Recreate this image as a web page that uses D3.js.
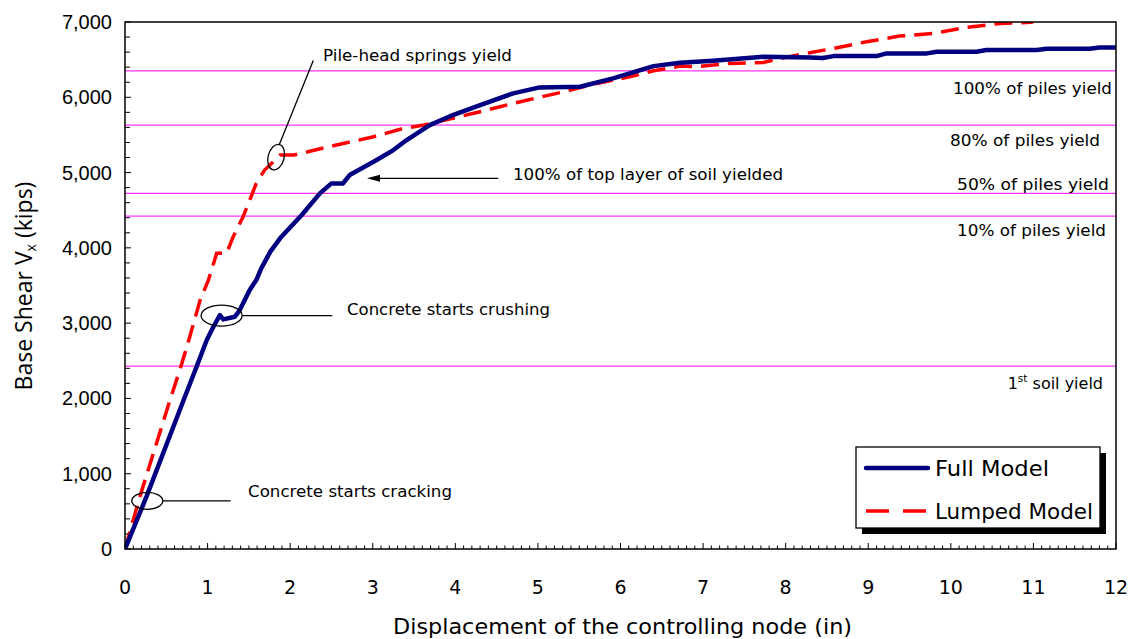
<!DOCTYPE html>
<html>
<head>
<meta charset="utf-8">
<script src="https://cdn.jsdelivr.net/npm/d3@7"></script>
<style>
  html, body { margin: 0; padding: 0; background: #fff; }
  svg { display: block; }
</style>
</head>
<body>
<div id="chart"></div>
<script>
// ---------------- DATA ----------------
const xTickValues = [0,1,2,3,4,5,6,7,8,9,10,11,12];
const yTickValues = [0,1000,2000,3000,4000,5000,6000,7000];

const seriesNames = ["Full Model", "Lumped Model"];

const fullDisp  = [0, 0.26, 0.71, 0.87, 0.99, 1.07, 1.15, 1.19, 1.33, 1.39, 1.51, 1.59, 1.65, 1.76, 1.88, 2.14, 2.36, 2.50, 2.64, 2.72, 3.01, 3.25, 3.41, 3.69, 3.97, 4.30, 4.70, 5.02, 5.51, 5.91, 6.40, 6.72, 7.12, 7.73, 8.29, 8.45, 8.58, 9.10, 9.22, 9.71, 9.83, 10.31, 10.43, 11.04, 11.16, 11.68, 11.80, 12.0];
const fullShear = [0, 695, 1979, 2430, 2776, 2952, 3107, 3050, 3085, 3174, 3440, 3572, 3728, 3950, 4130, 4436, 4724, 4856, 4856, 4967, 5143, 5299, 5432, 5631, 5764, 5896, 6052, 6131, 6140, 6251, 6414, 6458, 6485, 6538, 6530, 6522, 6547, 6547, 6583, 6583, 6605, 6605, 6627, 6627, 6645, 6645, 6662, 6662];

const lumpDisp  = [0, 0.18, 0.545, 0.67, 0.75, 0.91, 1.01, 1.11, 1.23, 1.31, 1.43, 1.59, 1.69, 1.88, 2.04, 2.30, 2.52, 3.01, 3.37, 3.62, 4.30, 4.70, 5.31, 5.71, 6.11, 6.40, 6.72, 6.92, 7.32, 7.73, 7.93, 8.29, 8.58, 8.98, 9.38, 9.79, 10.19, 10.60, 10.92, 11.0];
const lumpShear = [0, 695, 1979, 2400, 2687, 3307, 3572, 3927, 3927, 4148, 4413, 4856, 5033, 5232, 5232, 5299, 5356, 5476, 5587, 5631, 5808, 5919, 6073, 6184, 6272, 6352, 6414, 6405, 6450, 6463, 6516, 6591, 6649, 6738, 6813, 6848, 6928, 6981, 6994, 7000];

const limitValues = [6350, 5630, 4724, 4422, 2430];
const limitLabels = ["100% of piles yield", "80% of piles yield", "50% of piles yield", "10% of piles yield", "1st soil yield"];

const annotationTexts = ["Pile-head springs yield", "100% of top layer of soil yielded", "Concrete starts crushing", "Concrete starts cracking"];

const xTitle = "Displacement of the controlling node (in)";

// ---------------- LAYOUT ----------------
const W = 1128, H = 639;
const plot = { left: 125, right: 1116, top: 22, bottom: 549 };
const comic = "'Comic Sans MS', 'DejaVu Sans', sans-serif";

const svg = d3.select("#chart").append("svg").attr("width", W).attr("height", H);

const x = d3.scaleLinear().domain([0, 12]).range([plot.left, plot.right]);
const y = d3.scaleLinear().domain([0, 7000]).range([plot.bottom, plot.top]);

svg.append("defs").append("clipPath").attr("id", "clip")
  .append("rect").attr("x", plot.left).attr("y", plot.top)
  .attr("width", plot.right - plot.left).attr("height", plot.bottom - plot.top);

// limit lines
svg.append("g").selectAll("line").data(limitValues).join("line")
  .attr("x1", plot.left).attr("x2", plot.right)
  .attr("y1", d => y(d)).attr("y2", d => y(d))
  .attr("stroke", "#ff33ff").attr("stroke-width", 1.2);

// limit labels (right aligned, offset from their line)
const limitLabelRight = [1112, 1100, 1109, 1106, 1103];
const limitLabelWidth = [159, 150, 152, 149, 99];
const limitLabelDy = [23, 21, -3, 20, 23];
const limG = svg.append("g").attr("font-family", comic).attr("font-size", 15).attr("fill", "#000");
limitLabels.forEach((t, i) => {
  if (t.startsWith("1st")) {
    const tx = limG.append("text").attr("x", limitLabelRight[i]).attr("y", y(limitValues[i]) + limitLabelDy[i])
      .attr("text-anchor", "end").attr("font-size", 16);
    tx.append("tspan").text("1");
    tx.append("tspan").attr("font-size", 10.5).attr("dy", -7).text("st");
    tx.append("tspan").attr("dy", 7).text(" soil yield");
  } else {
    limG.append("text").attr("x", limitLabelRight[i] - limitLabelWidth[i]).attr("y", y(limitValues[i]) + limitLabelDy[i])
      .attr("textLength", limitLabelWidth[i]).attr("lengthAdjust", "spacingAndGlyphs").text(t);
  }
});

// axes (ticks inside)
const xMinor = d3.range(0, 12.0001, 0.1);
const yMinor = d3.range(0, 7000.1, 200);
const axG = svg.append("g").attr("stroke", "#000").attr("stroke-width", 1);
axG.selectAll(".xm").data(xMinor).join("line")
  .attr("x1", d => x(d)).attr("x2", d => x(d))
  .attr("y1", plot.bottom).attr("y2", (d, i) => plot.bottom - (i % 10 === 0 ? 6 : 3.5));
axG.selectAll(".ym").data(yMinor).join("line")
  .attr("y1", d => y(d)).attr("y2", d => y(d))
  .attr("x1", plot.left).attr("x2", (d, i) => plot.left + (i % 5 === 0 ? 6 : 5));

// tick labels
svg.append("g").selectAll("text").data(yTickValues).join("text")
  .attr("x", 112).attr("y", d => y(d) + 7)
  .attr("text-anchor", "end")
  .attr("font-family", "'Liberation Sans', Arial, sans-serif")
  .attr("font-size", 20)
  .text(d => d3.format(",")(d));

svg.append("g").selectAll("text").data(xTickValues).join("text")
  .attr("x", d => x(d)).attr("y", 594)
  .attr("text-anchor", "middle")
  .attr("font-family", comic)
  .attr("font-size", 19)
  .text(d => d);

// axis titles
svg.append("text").attr("x", 393).attr("y", 634)
  .attr("font-family", comic).attr("font-size", 21)
  .attr("textLength", 459).attr("lengthAdjust", "spacingAndGlyphs")
  .text(xTitle);

const yt = svg.append("text").attr("transform", "translate(32,286) rotate(-90)")
  .attr("text-anchor", "middle").attr("font-family", "'Open Sans', 'DejaVu Sans', sans-serif").attr("font-size", 23);
yt.append("tspan").text("Base Shear V");
yt.append("tspan").attr("font-size", 14).attr("dy", 4).text("x");
yt.append("tspan").attr("dy", -4).text(" (kips)");

// curves
const line = d3.line().x(d => x(d[0])).y(d => y(d[1]));
const fullData = fullDisp.map((d, i) => [d, fullShear[i]]);
const lumpData = lumpDisp.map((d, i) => [d, lumpShear[i]]);

const curves = svg.append("g").attr("clip-path", "url(#clip)");
curves.append("path").datum(lumpData).attr("d", line)
  .attr("fill", "none").attr("stroke", "#ff0000").attr("stroke-width", 3.5)
  .attr("stroke-dasharray", "18,9");
curves.append("path").datum(fullData).attr("d", line)
  .attr("fill", "none").attr("stroke", "#000080").attr("stroke-width", 4.5)
  .attr("stroke-linejoin", "round");

// frame
svg.append("rect").attr("x", plot.left).attr("y", plot.top)
  .attr("width", plot.right - plot.left).attr("height", plot.bottom - plot.top)
  .attr("fill", "none").attr("stroke", "#000").attr("stroke-width", 1.5);

// annotations
const ann = svg.append("g").attr("font-family", comic).attr("font-size", 15.5);
const blk = { fill: "none", stroke: "#000", "stroke-width": 1.3 };
function applyAttrs(sel, o) { Object.entries(o).forEach(([k, v]) => sel.attr(k, v)); return sel; }
function annText(tx, ty, w, t) {
  ann.append("text").attr("x", tx).attr("y", ty)
    .attr("textLength", w).attr("lengthAdjust", "spacingAndGlyphs").text(t);
}

// Pile-head springs yield
applyAttrs(ann.append("ellipse").attr("cx", x(1.83)).attr("cy", y(5205)).attr("rx", 8).attr("ry", 13)
  .attr("transform", `rotate(15,${x(1.83)},${y(5205)})`), blk);
applyAttrs(ann.append("line").attr("x1", x(1.87)).attr("y1", y(5375)).attr("x2", x(2.28)).attr("y2", y(6490)), blk);
annText(323, 61, 189, annotationTexts[0]);

// 100% top layer soil (arrow)
const ax0 = x(2.93), ay0 = y(4923);
applyAttrs(ann.append("line").attr("x1", x(4.52)).attr("y1", ay0).attr("x2", ax0 + 8).attr("y2", ay0), blk);
ann.append("path").attr("d", `M${ax0},${ay0} L${ax0 + 13},${ay0 - 3.5} L${ax0 + 13},${ay0 + 3.5} Z`).attr("fill", "#000");
annText(513, 180, 270, annotationTexts[1]);

// crushing
applyAttrs(ann.append("ellipse").attr("cx", x(1.17)).attr("cy", y(3100)).attr("rx", 20.5).attr("ry", 10.5), blk);
applyAttrs(ann.append("line").attr("x1", x(1.42)).attr("y1", y(3100)).attr("x2", x(2.51)).attr("y2", y(3100)), blk);
annText(347, 315, 203, annotationTexts[2]);

// cracking
applyAttrs(ann.append("ellipse").attr("cx", x(0.27)).attr("cy", y(640)).attr("rx", 15.5).attr("ry", 8.5), blk);
applyAttrs(ann.append("line").attr("x1", x(0.46)).attr("y1", y(640)).attr("x2", x(1.28)).attr("y2", y(640)), blk);
annText(248, 497, 204, annotationTexts[3]);

// legend
const lg = svg.append("g");
lg.append("rect").attr("x", 862).attr("y", 453).attr("width", 244).attr("height", 81).attr("fill", "#000");
lg.append("rect").attr("x", 856).attr("y", 447).attr("width", 244).attr("height", 81)
  .attr("fill", "#fff").attr("stroke", "#000").attr("stroke-width", 1.3);
lg.append("line").attr("x1", 866).attr("x2", 928).attr("y1", 468).attr("y2", 468)
  .attr("stroke", "#000080").attr("stroke-width", 4.5).attr("stroke-linecap", "round");
lg.append("line").attr("x1", 866).attr("x2", 928).attr("y1", 511).attr("y2", 511)
  .attr("stroke", "#ff0000").attr("stroke-width", 3.5).attr("stroke-dasharray", "23,14");
const legendWidths = [114, 158];
lg.selectAll("text").data(seriesNames).join("text")
  .attr("x", 935).attr("y", (d, i) => 476 + i * 43)
  .attr("font-family", comic).attr("font-size", 21)
  .attr("textLength", (d, i) => legendWidths[i]).attr("lengthAdjust", "spacingAndGlyphs")
  .text(d => d);
</script>
</body>
</html>
